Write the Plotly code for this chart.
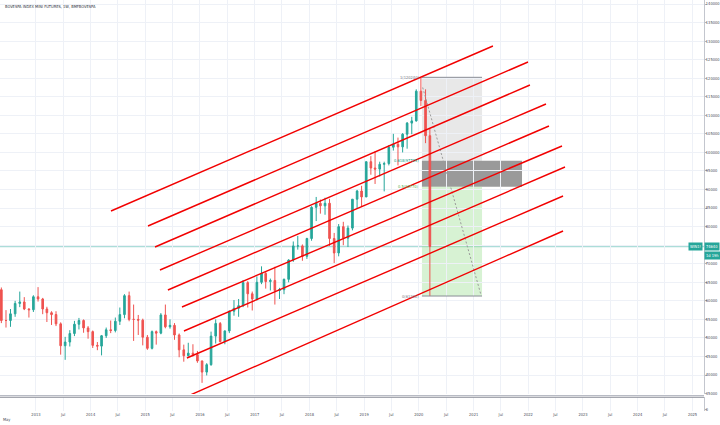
import plotly.graph_objects as go
import pandas as pd

# ---------------- data (monthly OHLC) ----------------
month_starts = pd.date_range("2012-05-01", "2020-03-01", freq="MS")
opens = [63000, 54700, 54700, 56500, 59300, 59700, 57800, 57600,
         61100, 60500, 57800, 56800, 56300, 53800, 47900, 48900, 51200, 53700, 54700, 52700,
         51700, 48000, 47800, 50600, 52200, 52000, 54500, 56300, 61400, 55000, 55000, 54800,
         50200, 47200, 51700, 51300, 56200, 53000, 53400, 50800, 46800, 45200, 45900, 45500,
         43800, 40800, 42800, 50500, 53900, 49000, 51900, 57200, 58000, 58700, 64900, 61900,
         60500, 65000, 67400, 65200, 65500, 62800, 63000, 65800, 71000, 74800, 74800, 72000,
         76800, 85200, 86300, 85600, 86300, 76800, 72900, 80000, 76900, 79600, 87400, 89600,
         88000, 97500, 95800, 95500, 96800, 97000, 101400, 102200, 101500, 104900, 107900, 108500,
         116500, 114000, 104500]
highs = [63600, 57500, 57800, 60000, 62500, 61000, 58000, 61500,
         63700, 60800, 58400, 57200, 57200, 54200, 50300, 52100, 54600, 55400, 55000, 53200,
         52000, 48900, 50800, 52800, 54700, 55500, 58200, 61800, 62500, 59000, 56200, 55200,
         50800, 52000, 52000, 56700, 59000, 55000, 54000, 51200, 48200, 48700, 48300, 46500,
         43900, 43200, 51700, 55000, 54300, 52000, 57400, 60200, 60500, 65600, 65300, 62500,
         66600, 69300, 68000, 66000, 69200, 63500, 66000, 71200, 76000, 77500, 75200, 77000,
         85500, 88000, 87300, 87800, 87500, 78300, 80700, 81300, 80300, 87400, 89900, 91000,
         97500, 99000, 100300, 97500, 97500, 102000, 105000, 104000, 105200, 108200, 109600, 117000,
         120240, 117000, 106500]
lows = [54000, 52800, 53000, 55700, 58300, 57500, 55500, 57000,
        59800, 56400, 54300, 53500, 53200, 45500, 44100, 47700, 50500, 52300, 51400, 49800,
        47300, 46700, 45300, 50000, 51300, 51500, 53500, 55300, 54500, 49200, 50800, 48000,
        46800, 46900, 48200, 51000, 52600, 52500, 49500, 44800, 43600, 45000, 45000, 43300,
        37900, 39900, 42500, 48500, 48800, 48300, 51300, 56000, 55700, 58300, 58200, 57400,
        60100, 64500, 63300, 62800, 59000, 60500, 61800, 65000, 70500, 73800, 70800, 71300,
        76200, 81500, 83500, 83200, 74800, 70200, 72000, 75000, 74500, 79000, 84800, 85300,
        88000, 94000, 91500, 93500, 89500, 96500, 100500, 96500, 100000, 101000, 104900, 108300,
        112500, 102500, 61300]
closes = [54700, 54700, 56500, 59300, 59700, 57800, 57600, 61100,
          60500, 57800, 56800, 56300, 53800, 47900, 48900, 51200, 53700, 54700, 52700, 51700,
          48000, 47800, 50600, 52200, 52000, 54500, 56300, 61400, 55000, 55000, 54800, 50200,
          47200, 51700, 51300, 56200, 53000, 53400, 50800, 46800, 45200, 45900, 45500, 43800,
          40800, 42800, 50500, 53900, 49000, 51900, 57200, 58000, 58700, 64900, 61900, 60500,
          65000, 67400, 65200, 65500, 62800, 63000, 65800, 71000, 74800, 74800, 72000, 76800,
          85200, 86300, 85600, 86300, 76800, 72900, 80000, 76900, 79600, 87400, 89600, 88000,
          97500, 95800, 95500, 96800, 97000, 101400, 102200, 101500, 104900, 107900, 108500, 116500,
          114000, 104500, 74640]

last_price = 74640
symbol = "WIN1!"
countdown = "1d 19h"
title_text = "BOVESPA INDEX MINI FUTURES, 1W, BMFBOVESPA"

# parallel channel lines drawn on the chart: (start date, start price, end date, end price)
channel_lines = [
    ("2014-05-17", 84213, "2021-05-10", 128681),
    ("2015-01-19", 80171, "2021-12-30", 124369),
    ("2015-03-07", 74512, "2022-01-12", 118171),
    ("2015-04-09", 68313, "2022-04-29", 113050),
    ("2015-06-01", 62923, "2022-05-19", 107121),
    ("2015-09-03", 58342, "2022-08-14", 101731),
    ("2015-09-16", 51874, "2022-09-03", 96072),
    ("2015-10-06", 44597, "2022-08-21", 88256),
    ("2015-09-23", 34000, "2022-08-21", 78823),
]

# fibonacci retracement drawing
fib_high = 120240
fib_low = 61300
fib_start = "2020-01-22"
fib_end = "2021-02-26"
fib_band_end = "2021-11-20"
projection = ("2020-01-27", 117500, "2021-02-19", 61600)

year_ticks = [f"{y}-{m:02d}-01" for y in range(2013, 2026) for m in (1, 7)][:-1]
year_text = [str(int(t[:4])) if t[5:7] == "01" else "Jul" for t in year_ticks]
price_ticks = list(range(35000, 140001, 5000))

# ---------------- figure ----------------
candle_dates = month_starts + pd.Timedelta(days=14)
UP = "#26a69a"
DOWN = "#ef5350"
GRID = "#eef1f7"
FONT = "Liberation Sans Narrow, DejaVu Sans Condensed, Liberation Sans, Arial"
AX_TXT = "#4a4d57"

fig = go.Figure()
fig.add_trace(go.Candlestick(
    x=candle_dates, open=opens, high=highs, low=lows, close=closes,
    increasing=dict(line=dict(color=UP, width=1), fillcolor=UP),
    decreasing=dict(line=dict(color=DOWN, width=1), fillcolor=DOWN),
    whiskerwidth=0, xaxis="x", yaxis="y", hoverinfo="skip"))
fig.add_trace(go.Scatter(x=[candle_dates[0]], y=[0.5], mode="markers",
                         marker=dict(opacity=0), xaxis="x2", yaxis="y2",
                         hoverinfo="skip"))

H_PLOT = 411.0
main_bottom = (H_PLOT - 394) / H_PLOT
vol_top = (H_PLOT - 397) / H_PLOT

fib_618 = fib_low + 0.618 * (fib_high - fib_low)
fib_50 = fib_low + 0.5 * (fib_high - fib_low)

shapes = []
shapes.append(dict(type="line", xref="paper", yref="y", x0=0, x1=1,
                   y0=last_price, y1=last_price,
                   line=dict(color="rgba(38,166,154,0.38)", width=1.6), layer="below"))
shapes.append(dict(type="rect", xref="x", yref="y", x0=fib_start, x1=fib_end,
                   y0=fib_618, y1=fib_high, fillcolor="rgba(190,190,190,0.35)",
                   line=dict(width=0), layer="below"))
shapes.append(dict(type="rect", xref="x", yref="y", x0=fib_start, x1=fib_band_end,
                   y0=fib_50, y1=fib_618, fillcolor="rgba(120,120,120,0.75)",
                   line=dict(width=0), layer="below"))
shapes.append(dict(type="rect", xref="x", yref="y", x0=fib_start, x1=fib_end,
                   y0=fib_low, y1=fib_50, fillcolor="rgba(150,220,140,0.38)",
                   line=dict(width=0), layer="below"))
for lv in (fib_high, fib_low):
    shapes.append(dict(type="line", xref="x", yref="y", x0=fib_start, x1=fib_end,
                       y0=lv, y1=lv, line=dict(color="#8a8d96", width=1)))
shapes.append(dict(type="line", xref="x", yref="y", x0=projection[0], y0=projection[1],
                   x1=projection[2], y1=projection[3],
                   line=dict(color="#9a9a9a", width=1, dash="2px,2px")))
for d0, p0, d1, p1 in channel_lines:
    shapes.append(dict(type="line", xref="x", yref="y", x0=d0, y0=p0, x1=d1, y1=p1,
                       line=dict(color="#f20000", width=1.4)))
shapes.append(dict(type="line", xref="paper", yref="paper", x0=0, x1=1,
                   y0=(H_PLOT - 395.7) / H_PLOT, y1=(H_PLOT - 395.7) / H_PLOT,
                   line=dict(color="#b8bbc4", width=1.2)))
shapes.append(dict(type="line", xref="paper", yref="paper", x0=0, x1=1,
                   y0=(H_PLOT - 397.3) / H_PLOT, y1=(H_PLOT - 397.3) / H_PLOT,
                   line=dict(color="#8f929b", width=1)))

annotations = []
annotations.append(dict(xref="paper", yref="paper", x=0.004, y=1 - 7 / H_PLOT,
                        xanchor="left", yanchor="middle", text=title_text, showarrow=False,
                        font=dict(family=FONT, size=4, color="#2a2e39")))
annotations.append(dict(xref="paper", yref="paper", x=0.002, y=-8 / H_PLOT,
                        xanchor="left", yanchor="middle", text="May", showarrow=False,
                        font=dict(family=FONT, size=4, color=AX_TXT)))
fib_labels = [(fib_high, f"1({fib_high})", "#787b86"),
              (fib_618, f"0.618({fib_618:.0f})", "#089981"),
              (fib_50, f"0.5({fib_50:.0f})", "#4caf50"),
              (fib_low, f"0({fib_low})", "#787b86")]
for lv, txt, col in fib_labels:
    annotations.append(dict(xref="x", yref="y", x=fib_start, y=lv, xanchor="right",
                            yanchor="middle", text=txt, showarrow=False, xshift=-1,
                            font=dict(family=FONT, size=4, color=col)))
annotations.append(dict(xref="paper", yref="y", x=1.0, y=last_price, xanchor="left",
                        yanchor="middle", text=f"{last_price}", showarrow=False,
                        bgcolor=UP, borderpad=1, xshift=0,
                        font=dict(family=FONT, size=4, color="white")))
annotations.append(dict(xref="paper", yref="y", x=1.0, y=last_price, xanchor="right",
                        yanchor="middle", text=symbol, showarrow=False,
                        bgcolor=UP, borderpad=1, xshift=-1,
                        font=dict(family=FONT, size=4, color="white")))
annotations.append(dict(xref="paper", yref="y", x=1.0, y=72300, xanchor="left",
                        yanchor="middle", text=countdown, showarrow=False,
                        bgcolor=UP, borderpad=1, xshift=0,
                        font=dict(family=FONT, size=4, color="white")))

xr = ["2012-05-06", "2025-03-19"]
fig.update_layout(
    width=720, height=425,
    margin=dict(l=0, r=16, t=0, b=14, autoexpand=False),
    paper_bgcolor="white", plot_bgcolor="white",
    showlegend=False, boxgap=0.45,
    shapes=shapes, annotations=annotations,
    xaxis=dict(domain=[0, 1], anchor="y", range=xr, type="date", automargin=False,
               tickvals=year_ticks, showticklabels=False, showgrid=True,
               gridcolor=GRID, zeroline=False, rangeslider=dict(visible=False)),
    xaxis2=dict(domain=[0, 1], anchor="y2", matches="x", range=xr, type="date",
                automargin=False,
                tickvals=year_ticks, ticktext=year_text, showgrid=True,
                gridcolor=GRID, ticks="", tickfont=dict(family=FONT, size=4, color=AX_TXT),
                zeroline=False),
    yaxis=dict(domain=[main_bottom, 1], anchor="x", side="right", automargin=False,
               range=[34895, 141078], tickvals=price_ticks,
               ticktext=[str(v) for v in price_ticks], showgrid=True, gridcolor=GRID,
               ticks="outside", ticklen=2, tickcolor="#b2b5be", showline=True,
               linecolor="#c3c6ce", linewidth=1, zeroline=False, ticklabelstandoff=-2,
               tickfont=dict(family=FONT, size=4, color=AX_TXT)),
    yaxis2=dict(domain=[0, vol_top], anchor="x2", side="right", range=[-0.15, 1],
                automargin=False, ticklabelstandoff=-2,
                tickvals=[0], ticktext=["0"], showgrid=False, ticks="outside",
                ticklen=2, tickcolor="#b2b5be", showline=True, linecolor="#c3c6ce",
                zeroline=False, tickfont=dict(family=FONT, size=4, color=AX_TXT)),
)

fig.write_html("out.html", config={"displayModeBar": False},
               post_script="document.body.style.margin='0px';"
                           "document.body.style.overflow='hidden';")
